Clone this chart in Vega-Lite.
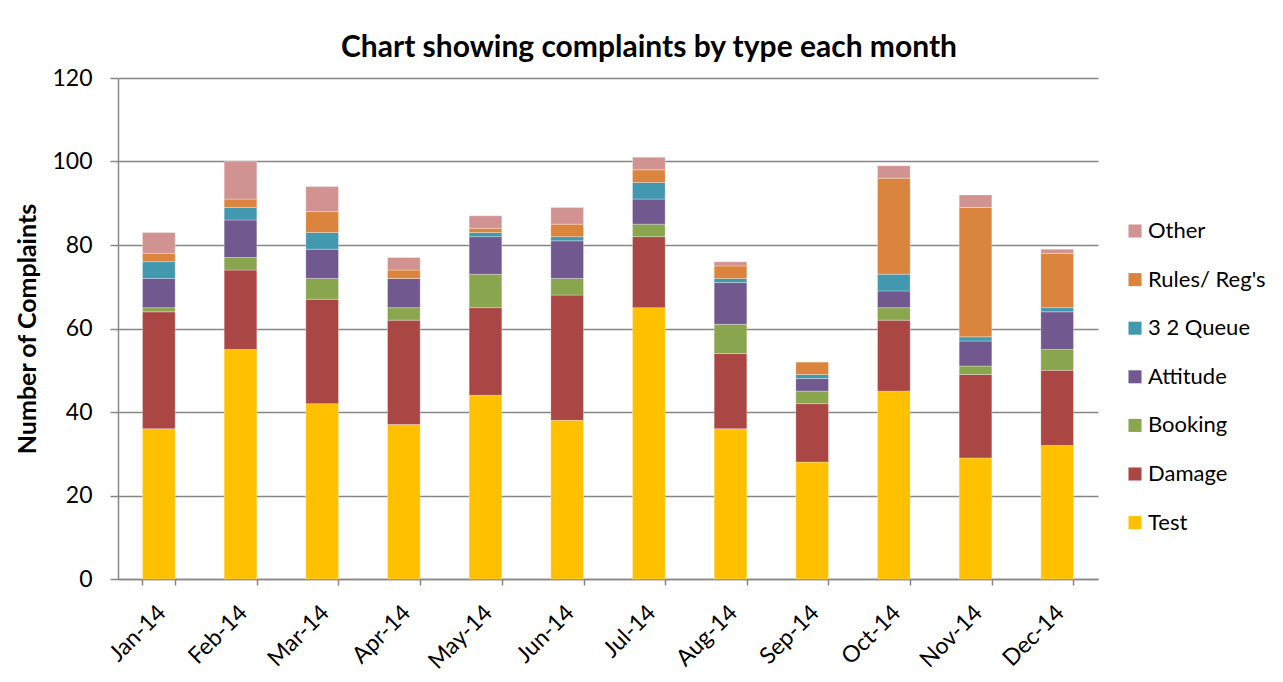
{
  "$schema": "https://vega.github.io/schema/vega-lite/v6.json",
  "autosize": {"type": "none"},
  "width": 980,
  "height": 501,
  "padding": {"left": 118, "top": 78, "right": 185, "bottom": 103},
  "background": "white",
  "title": {
    "text": "Chart showing complaints by type each month",
    "font": "Lato",
    "fontSize": 30,
    "fontWeight": "bold",
    "color": "#000000",
    "anchor": "middle",
    "dx": 41,
    "offset": 4
  },
  "datasets": {
    "types": [
      {"type": "Test", "stackRank": 1},
      {"type": "Damage", "stackRank": 2},
      {"type": "Booking", "stackRank": 3},
      {"type": "Attitude", "stackRank": 4},
      {"type": "3 2 Queue", "stackRank": 5},
      {"type": "Rules/ Reg's", "stackRank": 6},
      {"type": "Other", "stackRank": 7}
    ]
  },
  "data": {
    "values": [
      {"month": "Jan-14", "type": "Test", "count": 36}, {"month": "Jan-14", "type": "Damage", "count": 28}, {"month": "Jan-14", "type": "Booking", "count": 1}, {"month": "Jan-14", "type": "Attitude", "count": 7}, {"month": "Jan-14", "type": "3 2 Queue", "count": 4}, {"month": "Jan-14", "type": "Rules/ Reg's", "count": 2}, {"month": "Jan-14", "type": "Other", "count": 5},
      {"month": "Feb-14", "type": "Test", "count": 55}, {"month": "Feb-14", "type": "Damage", "count": 19}, {"month": "Feb-14", "type": "Booking", "count": 3}, {"month": "Feb-14", "type": "Attitude", "count": 9}, {"month": "Feb-14", "type": "3 2 Queue", "count": 3}, {"month": "Feb-14", "type": "Rules/ Reg's", "count": 2}, {"month": "Feb-14", "type": "Other", "count": 9},
      {"month": "Mar-14", "type": "Test", "count": 42}, {"month": "Mar-14", "type": "Damage", "count": 25}, {"month": "Mar-14", "type": "Booking", "count": 5}, {"month": "Mar-14", "type": "Attitude", "count": 7}, {"month": "Mar-14", "type": "3 2 Queue", "count": 4}, {"month": "Mar-14", "type": "Rules/ Reg's", "count": 5}, {"month": "Mar-14", "type": "Other", "count": 6},
      {"month": "Apr-14", "type": "Test", "count": 37}, {"month": "Apr-14", "type": "Damage", "count": 25}, {"month": "Apr-14", "type": "Booking", "count": 3}, {"month": "Apr-14", "type": "Attitude", "count": 7}, {"month": "Apr-14", "type": "3 2 Queue", "count": 0}, {"month": "Apr-14", "type": "Rules/ Reg's", "count": 2}, {"month": "Apr-14", "type": "Other", "count": 3},
      {"month": "May-14", "type": "Test", "count": 44}, {"month": "May-14", "type": "Damage", "count": 21}, {"month": "May-14", "type": "Booking", "count": 8}, {"month": "May-14", "type": "Attitude", "count": 9}, {"month": "May-14", "type": "3 2 Queue", "count": 1}, {"month": "May-14", "type": "Rules/ Reg's", "count": 1}, {"month": "May-14", "type": "Other", "count": 3},
      {"month": "Jun-14", "type": "Test", "count": 38}, {"month": "Jun-14", "type": "Damage", "count": 30}, {"month": "Jun-14", "type": "Booking", "count": 4}, {"month": "Jun-14", "type": "Attitude", "count": 9}, {"month": "Jun-14", "type": "3 2 Queue", "count": 1}, {"month": "Jun-14", "type": "Rules/ Reg's", "count": 3}, {"month": "Jun-14", "type": "Other", "count": 4},
      {"month": "Jul-14", "type": "Test", "count": 65}, {"month": "Jul-14", "type": "Damage", "count": 17}, {"month": "Jul-14", "type": "Booking", "count": 3}, {"month": "Jul-14", "type": "Attitude", "count": 6}, {"month": "Jul-14", "type": "3 2 Queue", "count": 4}, {"month": "Jul-14", "type": "Rules/ Reg's", "count": 3}, {"month": "Jul-14", "type": "Other", "count": 3},
      {"month": "Aug-14", "type": "Test", "count": 36}, {"month": "Aug-14", "type": "Damage", "count": 18}, {"month": "Aug-14", "type": "Booking", "count": 7}, {"month": "Aug-14", "type": "Attitude", "count": 10}, {"month": "Aug-14", "type": "3 2 Queue", "count": 1}, {"month": "Aug-14", "type": "Rules/ Reg's", "count": 3}, {"month": "Aug-14", "type": "Other", "count": 1},
      {"month": "Sep-14", "type": "Test", "count": 28}, {"month": "Sep-14", "type": "Damage", "count": 14}, {"month": "Sep-14", "type": "Booking", "count": 3}, {"month": "Sep-14", "type": "Attitude", "count": 3}, {"month": "Sep-14", "type": "3 2 Queue", "count": 1}, {"month": "Sep-14", "type": "Rules/ Reg's", "count": 3}, {"month": "Sep-14", "type": "Other", "count": 0},
      {"month": "Oct-14", "type": "Test", "count": 45}, {"month": "Oct-14", "type": "Damage", "count": 17}, {"month": "Oct-14", "type": "Booking", "count": 3}, {"month": "Oct-14", "type": "Attitude", "count": 4}, {"month": "Oct-14", "type": "3 2 Queue", "count": 4}, {"month": "Oct-14", "type": "Rules/ Reg's", "count": 23}, {"month": "Oct-14", "type": "Other", "count": 3},
      {"month": "Nov-14", "type": "Test", "count": 29}, {"month": "Nov-14", "type": "Damage", "count": 20}, {"month": "Nov-14", "type": "Booking", "count": 2}, {"month": "Nov-14", "type": "Attitude", "count": 6}, {"month": "Nov-14", "type": "3 2 Queue", "count": 1}, {"month": "Nov-14", "type": "Rules/ Reg's", "count": 31}, {"month": "Nov-14", "type": "Other", "count": 3},
      {"month": "Dec-14", "type": "Test", "count": 32}, {"month": "Dec-14", "type": "Damage", "count": 18}, {"month": "Dec-14", "type": "Booking", "count": 5}, {"month": "Dec-14", "type": "Attitude", "count": 9}, {"month": "Dec-14", "type": "3 2 Queue", "count": 1}, {"month": "Dec-14", "type": "Rules/ Reg's", "count": 13}, {"month": "Dec-14", "type": "Other", "count": 1}
    ]
  },
  "transform": [
    {"lookup": "type", "from": {"data": {"name": "types"}, "key": "type", "fields": ["stackRank"]}}
  ],
  "mark": {"type": "bar", "stroke": "white", "strokeWidth": 0.5, "strokeOpacity": 0.6},
  "encoding": {
    "x": {
      "field": "month",
      "type": "nominal",
      "sort": null,
      "scale": {"paddingInner": 0.6, "paddingOuter": 0.3},
      "axis": {
        "title": null,
        "labelAngle": -45,
        "labelFont": "Lato",
        "labelFontSize": 23,
        "labelColor": "#000000",
        "labelPadding": 16,
        "labelOffset": -5,
        "tickBand": "extent",
        "tickSize": 6,
        "tickColor": "#868686",
        "tickWidth": 1.5,
        "domainColor": "#868686",
        "domainWidth": 1.5,
        "grid": false
      }
    },
    "y": {
      "field": "count",
      "type": "quantitative",
      "stack": "zero",
      "scale": {"domain": [0, 120], "nice": false},
      "axis": {
        "title": "Number of Complaints",
        "titleFont": "Lato",
        "titleFontSize": 25,
        "titleFontWeight": "bold",
        "titleColor": "#000000",
        "titlePadding": 11,
        "values": [0, 20, 40, 60, 80, 100, 120],
        "labelFont": "Lato",
        "labelFontSize": 23,
        "labelColor": "#000000",
        "labelPadding": 18,
        "tickSize": 8,
        "tickColor": "#868686",
        "tickWidth": 1.5,
        "domainColor": "#868686",
        "domainWidth": 1.5,
        "gridColor": "#868686",
        "gridWidth": 1.5
      }
    },
    "color": {
      "field": "type",
      "type": "nominal",
      "scale": {
        "domain": ["Test", "Damage", "Booking", "Attitude", "3 2 Queue", "Rules/ Reg's", "Other"],
        "range": ["#FFC000", "#AA4643", "#89A54E", "#71588F", "#4198AF", "#DB843D", "#D19392"]
      },
      "legend": {
        "title": null,
        "values": ["Other", "Rules/ Reg's", "3 2 Queue", "Attitude", "Booking", "Damage", "Test"],
        "orient": "none",
        "legendX": 1006,
        "legendY": 142,
        "symbolType": "square",
        "symbolSize": 170,
        "symbolStrokeWidth": 0,
        "labelFont": "Lato",
        "labelFontSize": 22,
        "labelColor": "#000000",
        "labelOffset": 2,
        "rowPadding": 26.6
      }
    },
    "order": {"field": "stackRank", "type": "quantitative", "sort": "ascending"}
  },
  "config": {
    "view": {"stroke": null}
  }
}
